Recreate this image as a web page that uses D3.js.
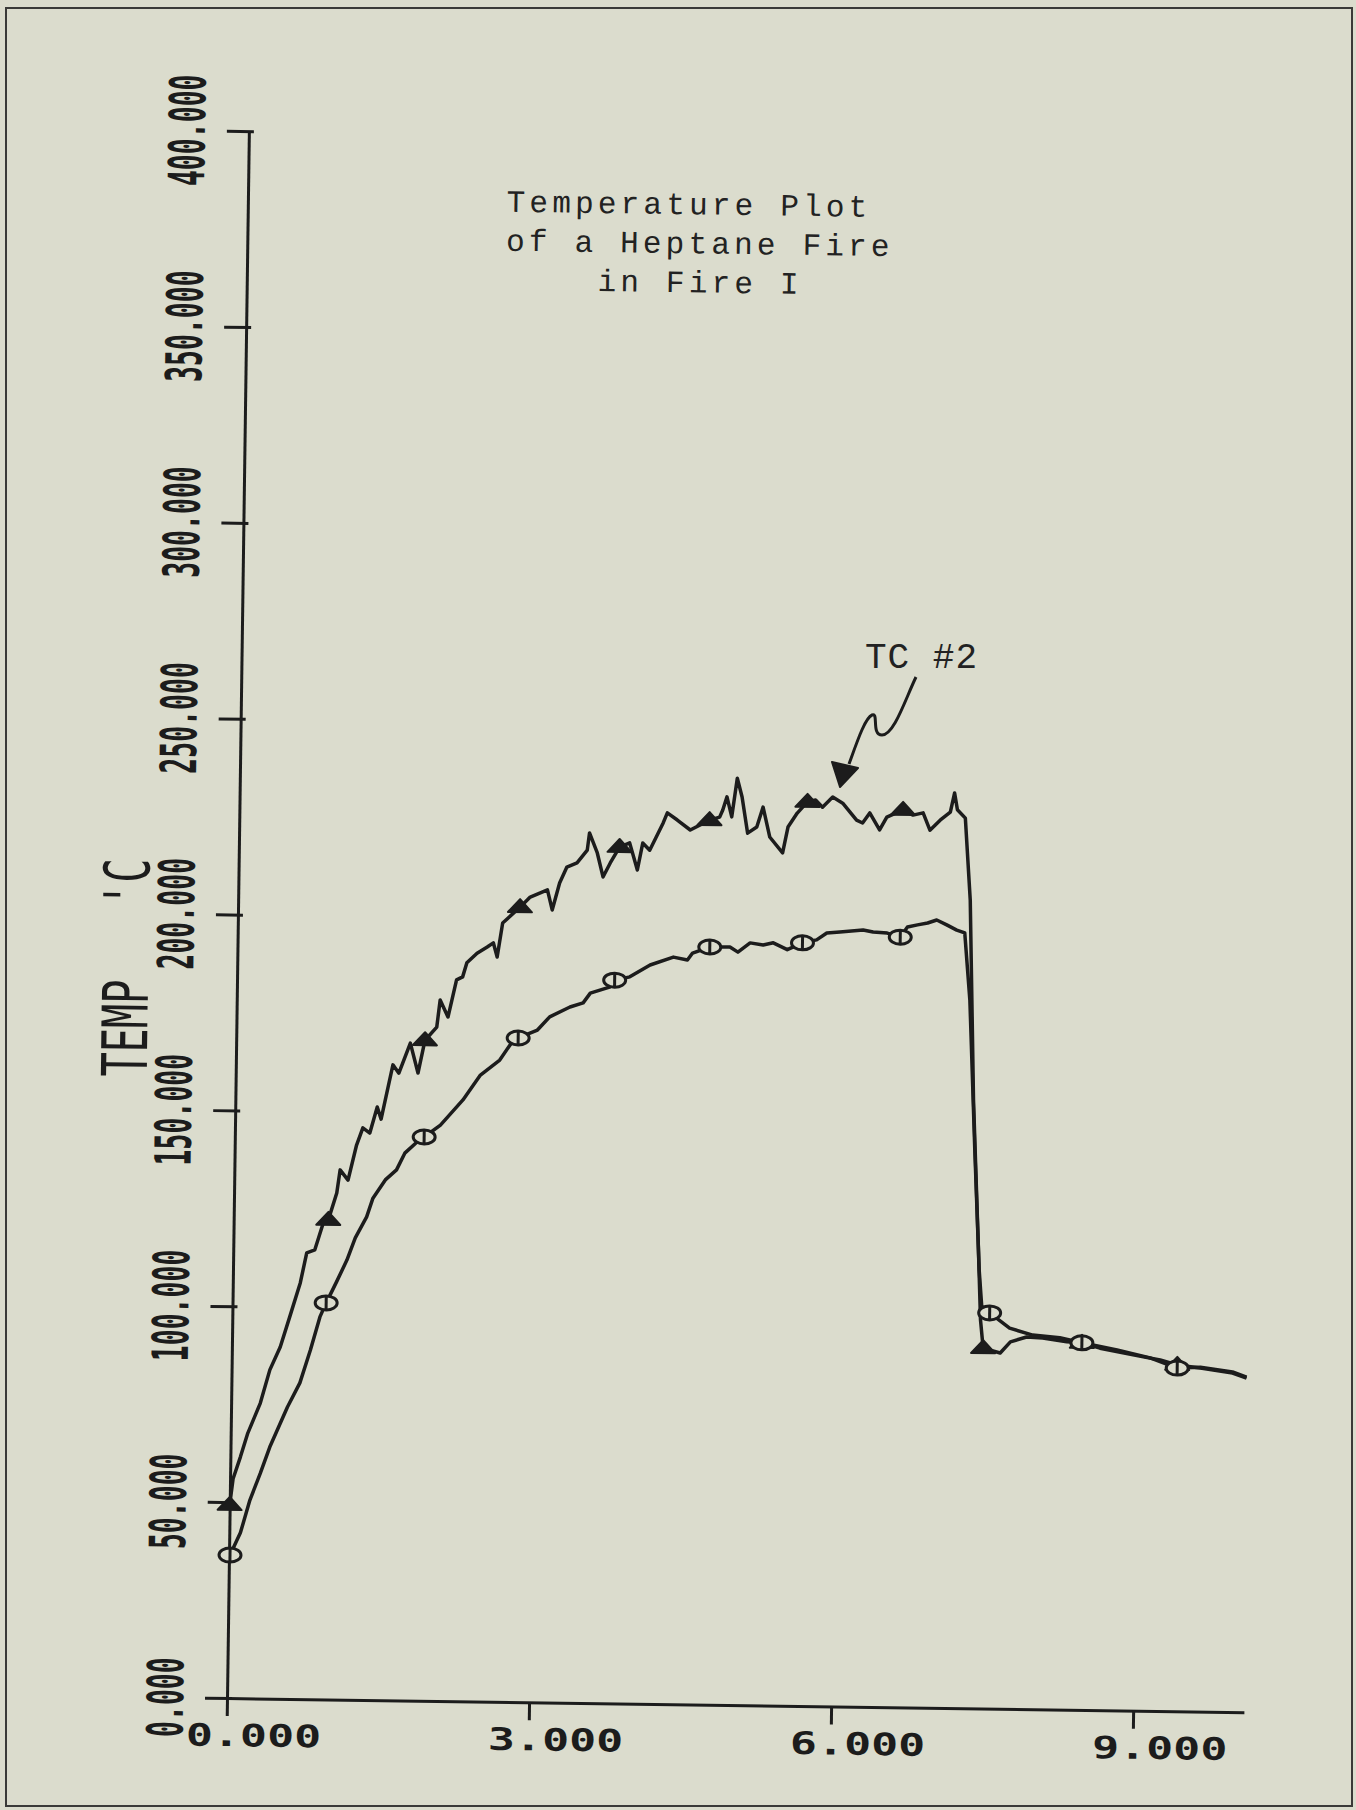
<!DOCTYPE html>
<html>
<head>
<meta charset="utf-8">
<script src="https://cdn.jsdelivr.net/npm/d3@7/dist/d3.min.js"></script>
<style>
html, body { margin: 0; padding: 0; background: #dbdccd; }
svg { display: block; }
</style>
</head>
<body>
<div id="chart"></div>
<script>
// ticks
var timeTicks = [0, 3, 6, 9];
var tempTicks = [0, 50, 100, 150, 200, 250, 300, 350, 400];

// TC #2 (triangles) - [time, temp]
var tc2 = [
  [0.00, 49.3], [0.03, 56.0], [0.10, 61.6], [0.17, 67.7], [0.29, 75.4], [0.38, 83.9],
  [0.48, 89.8], [0.57, 97.5], [0.67, 106.2], [0.73, 113.9], [0.81, 114.7], [0.89, 121.6],
  [0.94, 122.4], [1.02, 129.3], [1.05, 135.2], [1.13, 132.6], [1.21, 141.6], [1.27, 146.0],
  [1.34, 144.7], [1.41, 151.4], [1.45, 148.3], [1.56, 162.2], [1.62, 160.1], [1.73, 167.8],
  [1.81, 160.2], [1.875, 168.6], [1.99, 172.0], [2.02, 178.9], [2.10, 174.6], [2.18, 184.1],
  [2.24, 184.9], [2.28, 188.5], [2.38, 191.0], [2.48, 192.6], [2.54, 193.7], [2.58, 190.1],
  [2.63, 198.8], [2.80, 202.9], [2.90, 205.5], [3.07, 207.4], [3.12, 202.3], [3.19, 209.2],
  [3.26, 213.3], [3.36, 214.4], [3.46, 217.7], [3.48, 222.1], [3.56, 217.0], [3.62, 210.9],
  [3.69, 214.5], [3.78, 218.6], [3.88, 219.7], [3.96, 212.8], [4.01, 219.7], [4.08, 217.9],
  [4.21, 224.9], [4.25, 227.5], [4.35, 225.7], [4.48, 223.2], [4.67, 225.8], [4.77, 226.6],
  [4.80, 228.4], [4.84, 231.8], [4.89, 226.7], [4.94, 236.6], [4.99, 231.8], [5.05, 222.6],
  [5.14, 224.2], [5.20, 229.3], [5.27, 221.7], [5.40, 217.7], [5.45, 224.3], [5.54, 227.9],
  [5.64, 230.8], [5.72, 231.3], [5.79, 229.5], [5.89, 232.1], [5.99, 230.6], [6.13, 226.3],
  [6.19, 225.6], [6.26, 228.2], [6.36, 223.9], [6.43, 227.2], [6.59, 229.1], [6.69, 227.8],
  [6.79, 228.4], [6.86, 224.0], [6.96, 226.6], [7.06, 228.7], [7.10, 233.6], [7.13, 229.3],
  [7.21, 227.2], [7.27, 206.3], [7.33, 155.3], [7.40, 117.0], [7.43, 99.2], [7.46, 92.0],
  [7.63, 90.8], [7.73, 93.7], [7.89, 95.0], [8.05, 94.8], [8.29, 93.9], [8.44, 93.7],
  [8.62, 92.4], [8.95, 90.8], [9.22, 89.6], [9.39, 88.4], [9.62, 87.7], [9.94, 86.5],
  [10.08, 85.3]
];

// TC #1 (circles) - [time, temp]
var tc1 = [
  [0.01, 36.5], [0.11, 42.2], [0.20, 50.6], [0.30, 57.5], [0.39, 64.2], [0.56, 74.5],
  [0.68, 80.7], [0.78, 89.1], [0.87, 97.6], [0.93, 101.2], [1.03, 106.6], [1.13, 112.2],
  [1.21, 117.9], [1.32, 123.3], [1.38, 128.1], [1.50, 132.8], [1.61, 135.4], [1.69, 139.7],
  [1.81, 142.6], [1.88, 143.9], [2.04, 147.0], [2.26, 153.5], [2.43, 159.9], [2.62, 163.8],
  [2.72, 167.7], [2.80, 169.5], [2.99, 171.6], [3.11, 175.0], [3.31, 177.6], [3.44, 178.7],
  [3.51, 181.2], [3.70, 182.8], [3.75, 184.6], [3.90, 185.5], [4.10, 188.6], [4.33, 190.7],
  [4.47, 190.0], [4.52, 191.8], [4.69, 193.4], [4.89, 193.5], [4.97, 192.2], [5.09, 194.6],
  [5.22, 194.1], [5.32, 194.7], [5.46, 193.0], [5.61, 194.8], [5.75, 195.6], [5.85, 197.4],
  [5.98, 197.7], [6.21, 198.3], [6.31, 197.8], [6.45, 197.6], [6.58, 196.6], [6.65, 199.2],
  [6.75, 199.8], [6.85, 200.3], [6.94, 201.1], [7.04, 199.9], [7.14, 198.6], [7.22, 197.9],
  [7.28, 180.8], [7.35, 142.5], [7.41, 111.9], [7.44, 102.7], [7.52, 101.0], [7.72, 97.2],
  [7.95, 95.5], [8.22, 94.9], [8.44, 93.7], [8.79, 92.0], [9.12, 90.1], [9.39, 87.6],
  [9.62, 87.9], [9.94, 86.8], [10.08, 85.5]
];

// plot symbols
var tc2Marks = [[0.00, 49.3], [0.94, 122.4], [1.875, 168.6], [2.80, 202.9], [3.78, 218.6],
  [4.67, 225.8], [5.64, 230.8], [6.59, 229.1], [7.46, 92.0], [8.44, 93.7], [9.39, 88.4]];
var tc1Marks = [[0.01, 36.5], [0.93, 101.2], [1.88, 143.9], [2.80, 169.5], [3.75, 184.6],
  [4.69, 193.4], [5.61, 194.8], [6.58, 196.6], [7.52, 101.0], [8.44, 93.7], [9.39, 87.6]];

var titleLines = ['Temperature Plot', 'of a Heptane Fire', 'in Fire I'];
var yTitle = "TEMP   'C";
var curveLabel = 'TC #2';

var ink = '#1c1c1c';
var W = 1356, H = 1810;

var svg = d3.select('#chart').append('svg')
    .attr('width', W)
    .attr('height', H);

svg.append('rect')
    .attr('width', W).attr('height', H)
    .attr('fill', '#dbdccd');

// scanned page frame
svg.append('rect')
    .attr('x', 6).attr('y', 8)
    .attr('width', 1346).attr('height', 1798)
    .attr('fill', 'none')
    .attr('stroke', '#3a3a38')
    .attr('stroke-width', 2);

// the whole plot is scanned slightly rotated
var plot = svg.append('g')
    .attr('transform', 'translate(227,1698) rotate(0.8)');

var x = d3.scaleLinear().domain([0, 10.1]).range([0, 1017]);
var y = d3.scaleLinear().domain([0, 400]).range([0, -1567]);

var yAxis = plot.append('g')
    .call(d3.axisLeft(y).tickValues(tempTicks).tickSize(22).tickSizeOuter(0).tickFormat(''));
yAxis.selectAll('line').attr('x1', 5);

var xAxis = plot.append('g')
    .call(d3.axisBottom(x).tickValues(timeTicks).tickSize(18).tickSizeOuter(0).tickFormat(''));

plot.selectAll('.domain, .tick line')
    .attr('stroke', ink)
    .attr('stroke-width', 3);

// y tick labels, rotated, narrow plotter digits
plot.selectAll('.ylab')
    .data(tempTicks)
    .enter().append('text')
    .attr('class', 'ylab')
    .attr('transform', function(d) {
        return 'translate(-44,' + y(d) + ') rotate(-90) scale(0.53,1)';
    })
    .attr('text-anchor', 'middle')
    .attr('font-family', 'DejaVu Sans Mono')
    .attr('font-weight', 'bold')
    .attr('font-size', 50)
    .attr('fill', ink)
    .text(function(d) { return d3.format('.3f')(d); });

// x tick labels, decimal point sits on the tick
var xPitch = 31 * 0.602 * 1.45;
plot.selectAll('.xlab')
    .data(timeTicks)
    .enter().append('text')
    .attr('class', 'xlab')
    .attr('transform', function(d) {
        return 'translate(' + (x(d) - 1.5 * xPitch) + ',48) scale(1.45,1)';
    })
    .attr('font-family', 'DejaVu Sans Mono')
    .attr('font-weight', 'bold')
    .attr('font-size', 31)
    .attr('fill', ink)
    .text(function(d) { return d3.format('.3f')(d); });

plot.append('text')
    .attr('transform', 'translate(-89,-729) rotate(-90) scale(0.64,1)')
    .attr('text-anchor', 'middle')
    .attr('font-family', 'DejaVu Sans Mono')
    .attr('font-size', 63)
    .attr('fill', ink)
    .style('white-space', 'pre')
    .text(yTitle);

var line = d3.line()
    .x(function(d) { return x(d[0]); })
    .y(function(d) { return y(d[1]); });

[tc1, tc2].forEach(function(s) {
    plot.append('path')
        .datum(s)
        .attr('d', line)
        .attr('fill', 'none')
        .attr('stroke', ink)
        .attr('stroke-width', 3.5)
        .attr('stroke-linejoin', 'round');
});

plot.selectAll('.tri')
    .data(tc2Marks)
    .enter().append('path')
    .attr('class', 'tri')
    .attr('transform', function(d) { return 'translate(' + x(d[0]) + ',' + y(d[1]) + ')'; })
    .attr('d', 'M-12,5L0,-8L12,5Z')
    .attr('fill', ink)
    .attr('stroke', ink)
    .attr('stroke-width', 2)
    .attr('stroke-linejoin', 'round');

var circ = plot.selectAll('.circ')
    .data(tc1Marks)
    .enter().append('g')
    .attr('class', 'circ')
    .attr('transform', function(d) { return 'translate(' + x(d[0]) + ',' + y(d[1]) + ')'; });
circ.append('ellipse')
    .attr('rx', 11).attr('ry', 7)
    .attr('fill', '#dbdccd')
    .attr('stroke', ink)
    .attr('stroke-width', 3);
circ.append('line')
    .attr('y1', -7).attr('y2', 7)
    .attr('stroke', ink)
    .attr('stroke-width', 3);

// typed title
var title = svg.append('g')
    .attr('transform', 'rotate(0.8,600,250)')
    .attr('font-family', 'Liberation Mono')
    .attr('font-size', 31)
    .attr('letter-spacing', 4.2)
    .attr('fill', '#222');
title.selectAll('text')
    .data(titleLines)
    .enter().append('text')
    .attr('x', function(d, i) { return i == 2 ? 598 : 506; })
    .attr('y', function(d, i) { return [213, 252, 291][i]; })
    .style('white-space', 'pre')
    .text(function(d) { return d; });

// hand drawn label + arrow
var note = svg.append('g');
note.append('text')
    .attr('x', 865).attr('y', 668)
    .attr('font-family', 'Liberation Mono')
    .attr('font-size', 36)
    .attr('letter-spacing', 1)
    .attr('fill', '#222')
    .text(curveLabel);
note.append('path')
    .attr('d', 'M916,677C905,700 894,735 882,735C871,735 879,712 872,715C865,718 857,742 849,764')
    .attr('fill', 'none')
    .attr('stroke', ink)
    .attr('stroke-width', 3);
note.append('path')
    .attr('d', 'M832,762L858,768L840,787Z')
    .attr('fill', ink)
    .attr('stroke', ink)
    .attr('stroke-width', 2)
    .attr('stroke-linejoin', 'round');
</script>
</body>
</html>
